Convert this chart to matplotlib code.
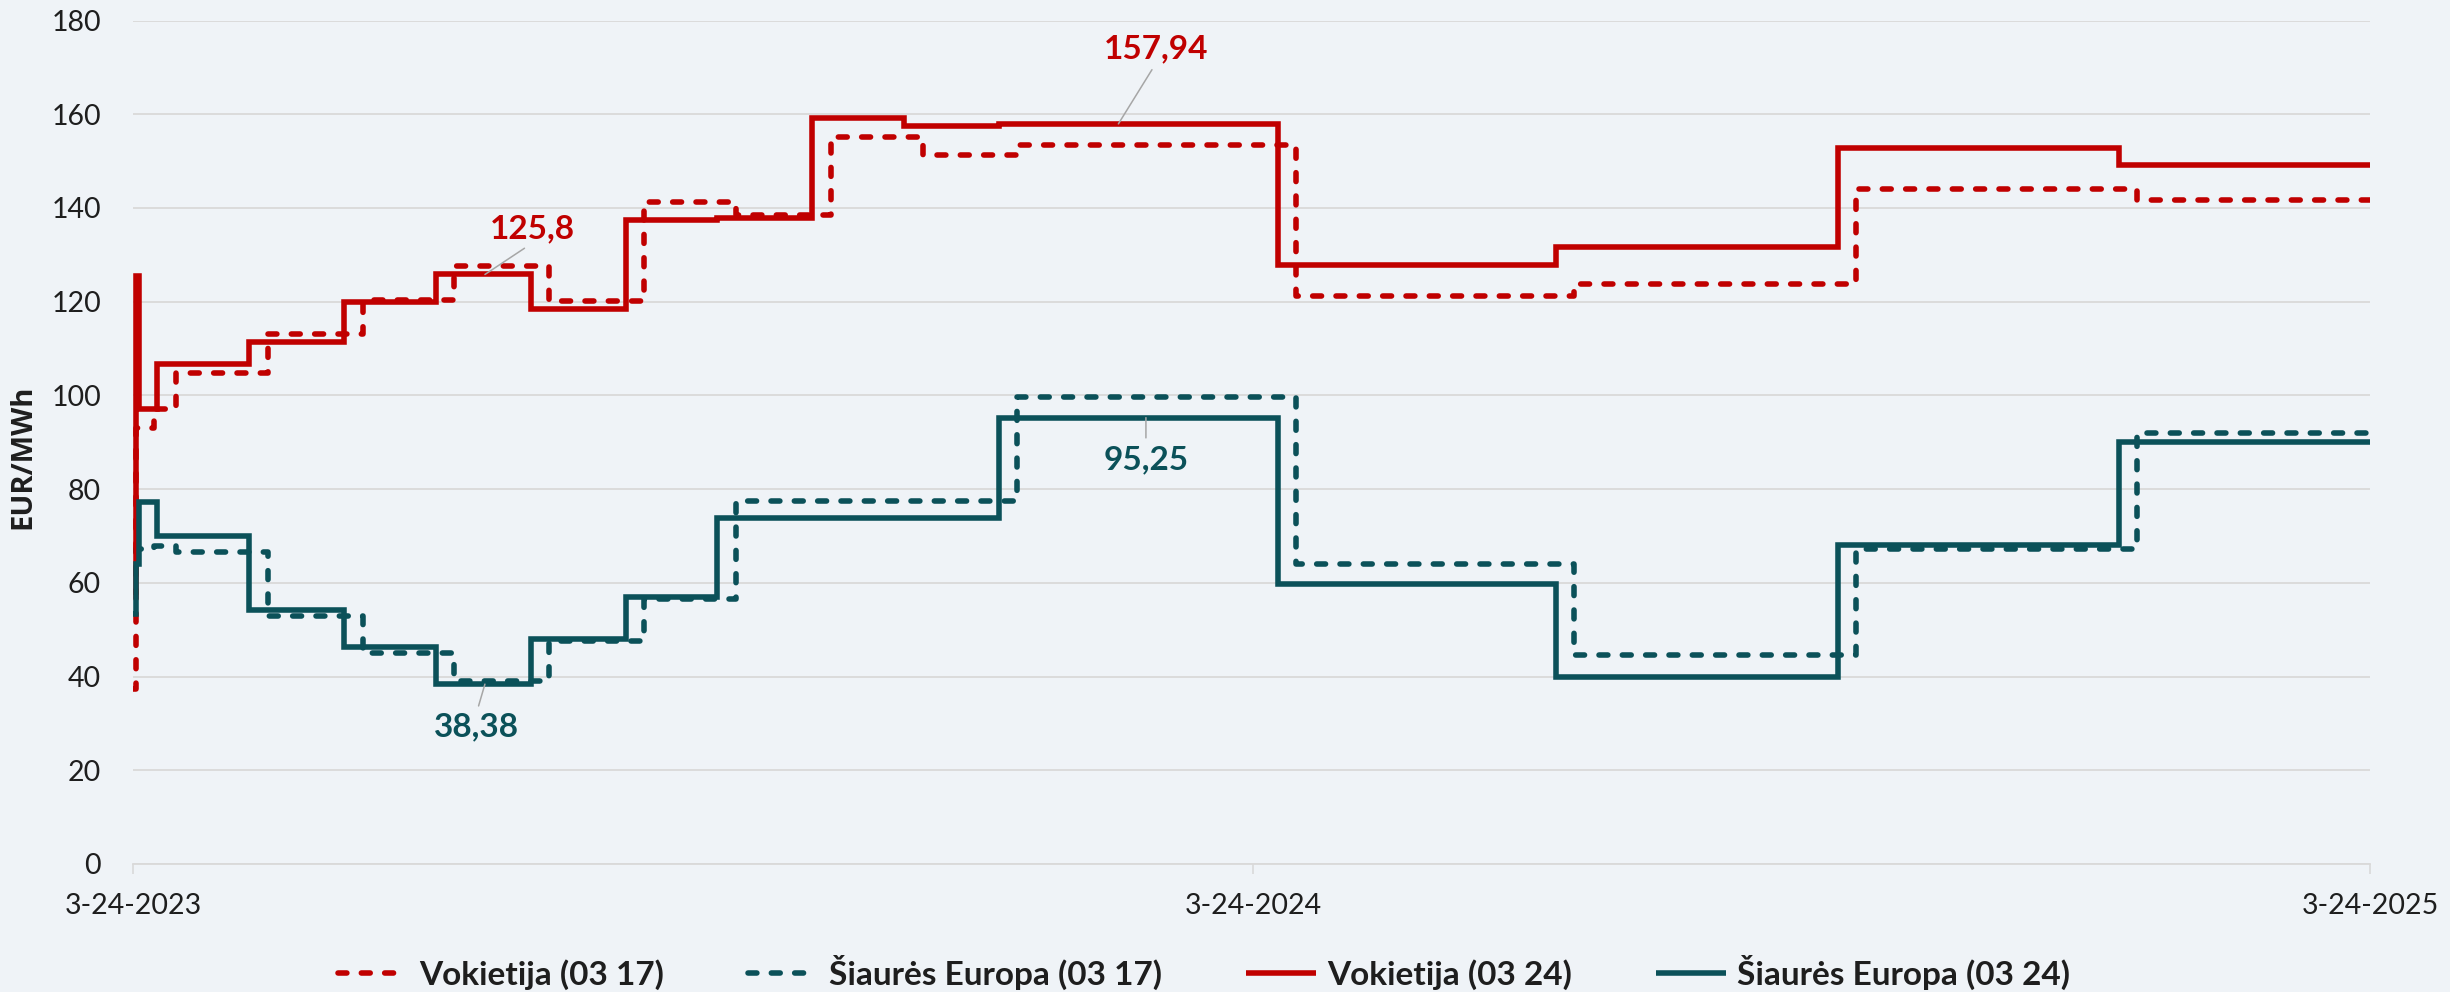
import matplotlib
matplotlib.use("Agg")
import matplotlib.pyplot as plt
import pandas as pd

# ---------------- data ----------------
x_start = "2023-03-24"
x_end = "2025-03-24"

tick_dates = ["2023-03-24", "2024-03-24", "2025-03-24"]
tick_labels = ["3-24-2023", "3-24-2024", "3-24-2025"]
y_ticks = [0, 20, 40, 60, 80, 100, 120, 140, 160, 180]

# Vokietija (03 17) - dashed red : step start dates / values
de_0317_dates = ["2023-03-24", "2023-03-25", "2023-03-31", "2023-04-07", "2023-05-07",
                 "2023-06-07", "2023-07-07", "2023-08-07", "2023-09-07", "2023-10-07",
                 "2023-11-07", "2023-12-07", "2024-01-07", "2024-04-07", "2024-07-07",
                 "2024-10-07", "2025-01-07"]
de_0317_vals = [37.4, 93.1, 97.0, 104.8, 113.2, 120.3, 127.6, 120.1, 141.2, 138.5,
                155.1, 151.2, 153.4, 121.2, 123.8, 144.1, 141.7]

# Siaures Europa (03 17) - dashed teal
ne_0317_dates = ["2023-03-24", "2023-03-25", "2023-03-31", "2023-04-07", "2023-05-07",
                 "2023-06-07", "2023-07-07", "2023-08-07", "2023-09-07", "2023-10-07",
                 "2024-01-07", "2024-04-07", "2024-07-07", "2024-10-07", "2025-01-07"]
ne_0317_vals = [62.0, 67.2, 67.9, 66.6, 52.9, 45.0, 39.0, 47.5, 56.5, 77.4,
                99.7, 64.1, 44.6, 67.2, 92.0]

# Vokietija (03 24) - solid red
de_0324_dates = ["2023-03-24", "2023-03-25", "2023-03-26", "2023-04-01", "2023-05-01",
                 "2023-06-01", "2023-07-01", "2023-08-01", "2023-09-01", "2023-10-01",
                 "2023-11-01", "2023-12-01", "2024-01-01", "2024-04-01", "2024-07-01",
                 "2024-10-01", "2025-01-01"]
de_0324_vals = [58.0, 125.4, 97.0, 106.6, 111.3, 120.0, 125.8, 118.5, 137.4, 137.9,
                159.2, 157.4, 157.94, 127.9, 131.6, 152.8, 149.2]

# Siaures Europa (03 24) - solid teal
ne_0324_dates = ["2023-03-24", "2023-03-25", "2023-03-26", "2023-04-01", "2023-05-01",
                 "2023-06-01", "2023-07-01", "2023-08-01", "2023-09-01", "2023-10-01",
                 "2024-01-01", "2024-04-01", "2024-07-01", "2024-10-01", "2025-01-01"]
ne_0324_vals = [53.3, 64.0, 77.2, 70.1, 54.1, 46.4, 38.38, 48.0, 57.0, 73.9,
                95.25, 59.7, 39.9, 68.0, 90.0]

series_labels = ["Vokietija (03 17)", "Šiaurės Europa (03 17)",
                 "Vokietija (03 24)", "Šiaurės Europa (03 24)"]

# annotations: text, anchor date, anchor value
ann_texts = ["125,8", "157,94", "95,25", "38,38"]
ann_dates = ["2023-07-17", "2024-02-09", "2024-02-18", "2023-07-17"]
ann_vals = [125.8, 157.94, 95.25, 38.38]

# ---------------- style ----------------
RED = "#C00000"
TEAL = "#0B5159"
BG = "#EFF3F7"
GRID = "#D9D9D9"
TXT = "#1E1E1E"

plt.rcParams["font.family"] = ["Lato", "DejaVu Sans"]

W, H = 2450, 992
fig = plt.figure(figsize=(W / 100, H / 100), dpi=100, facecolor=BG)
ax_l, ax_r, ax_t, ax_b = 133, 2370, 20.5, 864
ax = fig.add_axes([ax_l / W, 1 - ax_b / H, (ax_r - ax_l) / W, (ax_b - ax_t) / H])
ax.set_facecolor(BG)

LW = 4.0
DASH = (0, (1.6, 2.6))


def draw(dates, vals, color, dashed, label):
    d = list(pd.to_datetime(dates + [x_end]))
    v = vals + [vals[-1]]
    ln, = ax.plot(d, v, drawstyle="steps-post", color=color, lw=LW,
                  linestyle=DASH if dashed else "-",
                  dash_capstyle="round", solid_capstyle="butt",
                  solid_joinstyle="miter", label=label, zorder=3)
    return ln


h1 = draw(de_0317_dates, de_0317_vals, RED, True, series_labels[0])
h2 = draw(ne_0317_dates, ne_0317_vals, TEAL, True, series_labels[1])
h3 = draw(de_0324_dates, de_0324_vals, RED, False, series_labels[2])
h4 = draw(ne_0324_dates, ne_0324_vals, TEAL, False, series_labels[3])

ax.set_xlim(pd.Timestamp(x_start), pd.Timestamp(x_end))
ax.set_ylim(0, 180)
ax.set_yticks(y_ticks)
ax.set_yticklabels([str(t) for t in y_ticks])
ax.set_xticks(list(pd.to_datetime(tick_dates)))
ax.set_xticklabels(tick_labels)

ax.yaxis.grid(True, color=GRID, lw=1.3)
ax.set_axisbelow(True)
for s in ["left", "right", "top"]:
    ax.spines[s].set_visible(False)
ax.spines["bottom"].set_color(GRID)
ax.spines["bottom"].set_linewidth(1.3)

ax.tick_params(axis="y", length=0, pad=23, labelsize=20.5, labelcolor=TXT)
ax.tick_params(axis="x", direction="out", length=7, width=1.2, color=GRID,
               pad=14, labelsize=20.5, labelcolor=TXT)

fig.text(23 / W, 1 - 457 / H, "EUR/MWh", rotation=90, ha="center", va="center",
         fontsize=21, fontweight="bold", color=TXT, family=["Open Sans", "DejaVu Sans"])

# annotations
ann_colors = [RED, RED, TEAL, TEAL]
ann_offsets = [(34, 33), (27, 54), (0, -30), (-6, -31)]
ann_relpos = [(0.5, 0.0), (0.5, 0.0), (0.5, 1.0), (0.5, 1.0)]
for t, d, v, c, off, rp in zip(ann_texts, ann_dates, ann_vals, ann_colors,
                               ann_offsets, ann_relpos):
    ax.annotate(t, xy=(pd.Timestamp(d), v), xytext=off, textcoords="offset points",
                ha="center", va="center", fontsize=24, fontweight="bold", color=c,
                arrowprops=dict(arrowstyle="-", color="#A6A6A6", lw=1.1,
                                relpos=rp, shrinkA=3, shrinkB=0),
                zorder=5)

fig.legend(handles=[h1, h2, h3, h4], labels=series_labels, loc="center",
           bbox_to_anchor=(1204 / W, 1 - 972 / H), ncol=4, frameon=False,
           prop={"weight": "bold", "size": 24}, handlelength=2.1,
           handletextpad=0.35, columnspacing=2.5, labelcolor=TXT)

fig.savefig("out.png", dpi=100, facecolor=BG)
